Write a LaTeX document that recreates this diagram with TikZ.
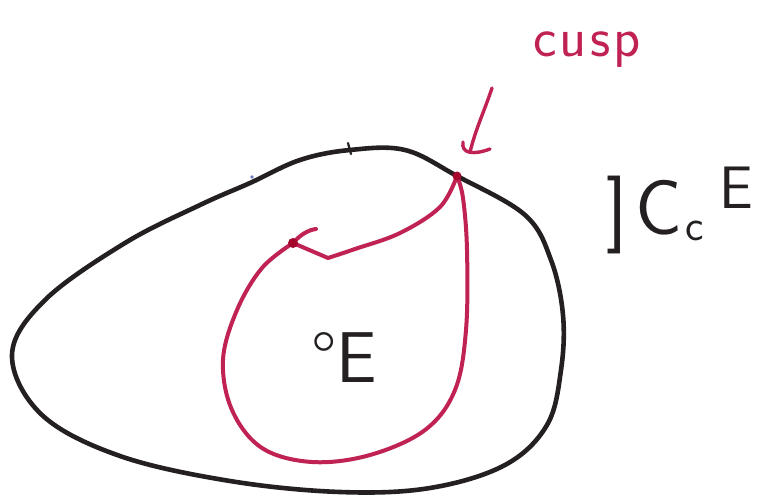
\documentclass[tikz,border=0pt]{standalone}
\usepackage{fontspec}
\usetikzlibrary{arrows.meta}
\definecolor{ink}{RGB}{36,32,34}
\definecolor{crim}{RGB}{192,34,84}
\definecolor{crimdark}{RGB}{165,8,45}
\definecolor{speck}{RGB}{110,130,190}
\begin{document}
\begin{tikzpicture}[x=1pt,y=-1pt,
  outerline/.style={draw=ink,line width=4.6pt,line join=round,line cap=round},
  redline/.style={draw=crim,line width=4pt,line cap=round,line join=round},
  reddot/.style={circle,fill=crimdark,inner sep=0pt,minimum size=9pt},
  lbl/.style={inner sep=0pt,anchor=center}]
\useasboundingbox (0,0) rectangle (780,498);
\fill[white] (0,0) rectangle (780,498);

\coordinate (cusp) at (457,176);
\coordinate (kink) at (293,243);

% outer curve
\draw[outerline] plot[smooth cycle, tension=0.6] coordinates {
  (12,355) (45,300) (125,243) (200,205) (250,183) (300,160) (350,150)
  (405,150) (457,176) (525,215) (551,260) (563,315) (561,370) (547,425)
  (505,465) (430,488) (340,492) (230,481) (120,456) (42,415)};
% notch on top
\draw[ink,line width=2.2pt,line cap=round] (348,143) -- (351,154);
% speck
\fill[speck] (252,177) circle (1.8pt);

% red region
\draw[redline] plot[smooth, tension=0.6] coordinates {
  (cusp) (440,207) (400,233) (355,249) (328,258)} -- (kink);
\draw[redline] (kink) .. controls (300,235) and (308,230) .. (316,229);
\draw[redline] plot[smooth, tension=0.6] coordinates {
  (kink) (262,268) (237,310) (223,360) (232,410) (262,448) (312,462)
  (370,455) (425,430) (455,390) (466,330) (467,250) (463,198) (cusp)};
\node[reddot] (cuspdot) at (cusp) {};
\node[reddot,minimum size=10pt] (kinkdot) at (kink) {};

% labels
\node[lbl,text=crim,font=\sffamily\fontsize{56}{60}\selectfont] (cusplabel) at (587,50) {c\kern3pt u\kern3pt s\kern3pt p};
\coordinate (arrowstart) at (492,88);
\coordinate (tip) at (470,152);
\draw[redline,line width=3.4pt] (arrowstart) .. controls (484,112) and (476,128) .. (tip);
\draw[redline,line width=3.4pt] ([shift={(-7,-10)}]tip) .. controls ([shift={(-9,2)}]tip) and ([shift={(4,3)}]tip) .. ([shift={(20,-3)}]tip);

\node[lbl,text=ink,font=\sffamily\fontsize{78}{90}\selectfont] (tube) at (680,210)
  {]\kern8pt C\kern3pt\raisebox{-6pt}{\fontsize{44}{50}\selectfont c}\kern16pt\raisebox{26pt}{\fontsize{60}{64}\selectfont E}};
\node[lbl,text=ink,font=\sffamily\fontsize{72}{80}\selectfont] (interior) at (344,358) {°E};
\end{tikzpicture}
\end{document}
